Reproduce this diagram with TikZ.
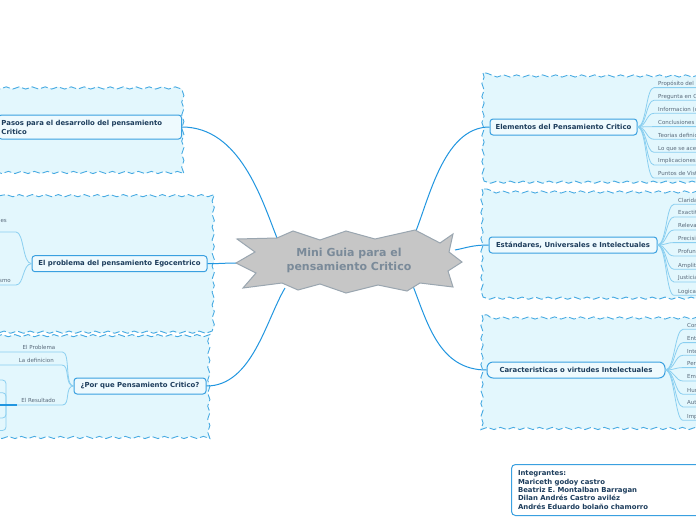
\documentclass[tikz,border=0pt]{standalone}
\usepackage{fontspec}
\setmainfont{DejaVu Sans}
\usetikzlibrary{decorations.pathmorphing}
\definecolor{boxfill}{HTML}{E3F7FD}
\definecolor{boxline}{HTML}{46AAE2}
\definecolor{nodeline}{HTML}{3AA0E0}
\definecolor{nodefill}{HTML}{EEFAFE}
\definecolor{navy}{HTML}{1D3D5C}
\definecolor{subtext}{HTML}{58697A}
\definecolor{subline}{HTML}{8ACFF0}
\definecolor{mainline}{HTML}{2196E0}
\definecolor{starfill}{HTML}{C6C6C6}
\definecolor{starline}{HTML}{9AA6B0}
\definecolor{startext}{HTML}{7A8A99}
\begin{document}
\begin{tikzpicture}[x=1pt,y=-1pt,
  zone/.style={fill=boxfill, draw=boxline, line width=0.9pt, dash pattern=on 7pt off 3pt, decorate, decoration={snake, segment length=13pt, amplitude=1.1pt}},
  topic/.style={draw=nodeline, fill=nodefill, line width=1pt, rounded corners=3pt, font=\fontsize{6.9}{9}\selectfont\bfseries, text=navy, inner sep=0pt, minimum height=16pt},
  sub/.style={font=\fontsize{5.5}{6.5}\selectfont, text=subtext, inner sep=0pt},
  subconn/.style={draw=subline, line width=0.8pt},
  mainconn/.style={draw=mainline, line width=1pt},
]
\clip (0,0) rectangle (696,520);
\fill[white] (0,0) rectangle (696,520);

% zones
\path[zone] (-10,85) rectangle (187,169);
\path[zone] (-10,197) rectangle (212,329);
\path[zone] (-10,337) rectangle (213,436);
\path[zone] (483,73) rectangle (712,181);
\path[zone] (482,189) rectangle (712,297);
\path[zone] (482,315) rectangle (712,425);

% star anchor points
\coordinate (sPasos) at (277,238);
\coordinate (sProb) at (237,263);
\coordinate (sPq) at (285,288);
\coordinate (sEl) at (413,238);
\coordinate (sEst) at (455,250);
\coordinate (sCar) at (413,286);

% main topics
\node[topic, anchor=west, text width=177pt, align=left, inner xsep=3pt, minimum height=24pt] (pasos) at (-2,127) {Pasos para el desarrollo del pensamiento\\Critico};
\node[topic, minimum width=175pt] (prob) at (119.5,263.7) {El problema del pensamiento Egocentrico};
\node[topic, minimum width=132pt] (pq) at (140,386) {¿Por que Pensamiento Critico?};
\node[topic, minimum width=147pt] (el) at (563.5,127) {Elementos del Pensamiento Critico};
\node[topic, minimum width=168pt] (est) at (573,245) {Estándares, Universales e Intelectuales};
\node[topic, minimum width=178pt, rounded corners=6pt] (car) at (576,370) {Caracteristicas o virtudes Intelectuales};

% main connectors
\draw[mainconn] (pasos.east) .. controls (240,127) and (262,200) .. (sPasos);
\draw[mainconn] (prob.east) .. controls (220,263.7) and (225,263) .. (sProb);
\draw[mainconn] (pq.east) .. controls (252,386) and (266,320) .. (sPq);
\draw[mainconn] (el.west) .. controls (442,127) and (428,205) .. (sEl);
\draw[mainconn] (est.west) .. controls (472,245) and (466,248) .. (sEst);
\draw[mainconn] (car.west) .. controls (440,370) and (428,325) .. (sCar);

% star
\path[fill=starfill, draw=starline, line width=1pt, line join=miter]
  (237,239) -- (277,238) -- (293,231) -- (320,240) -- (346,231) -- (375,239) -- (415,230) -- (440,243) -- (453,234) -- (449,252) -- (462,262) -- (448,271) -- (453,287) -- (420,283) -- (407,291) -- (378,285) -- (346,293) -- (320,284) -- (298,290) -- (282,283) -- (243,288) -- (256,273) -- (236,263) -- (255,252) -- cycle;
\node[font=\fontsize{11}{14.4}\selectfont\bfseries, text=startext, align=center, inner sep=0pt] (ctr) at (349,260.5) {Mini Guia para el\\pensamiento Critico};

% Elementos sub items
\foreach \yy/\tt [count=\i] in {83.3/Propósito del Pensamiento, 96/Pregunta en Cuestión, 109/Informacion (datos), 122.3/Conclusiones, 135/Teorias definiciones, 148/Lo que se acepta, 160.7/Implicaciones, 173.7/Puntos de Vista}{
  \node[sub, anchor=base west] (el\i) at (658,\yy+2) {\tt};
  \draw[subconn] (el.east) .. controls +(9,0) and +(-8,0) .. ([xshift=-4pt,yshift=-2.3pt]el\i.base west) -- ++(60,0);
}
% Estandares sub items
\foreach \yy/\tt [count=\i] in {200/Claridad, 212.7/Exactitud, 225.7/Relevancia, 238.3/Precisión, 251.7/Profundidad, 265/Amplitud, 277.7/Justicia, 291/Logica}{
  \node[sub, anchor=base west] (est\i) at (678,\yy+2) {\tt};
  \draw[subconn] (est.east) .. controls +(9,0) and +(-8,0) .. ([xshift=-4pt,yshift=-2.3pt]est\i.base west) -- ++(60,0);
}
% Caracteristicas sub items
\foreach \yy/\tt [count=\i] in {325/Confianza en la razón, 338.3/Entereza intelectual, 351/Integridad intelectual, 363.3/Perseverancia intelectual, 376.7/Empatía intelectual, 390/Humildad intelectual, 402.7/Autonomía intelectual, 416/Imparcialidad}{
  \node[sub, anchor=base west] (car\i) at (687,\yy+2) {\tt};
  \draw[subconn] (car.east) .. controls +(9,0) and +(-8,0) .. ([xshift=-4pt,yshift=-2.3pt]car\i.base west) -- ++(60,0);
}

% El problema sub items (left)
\node[sub, anchor=base east] (prob1) at (7,222) {es};
\node[sub, anchor=base east] (prob2) at (11,282.3) {smo};
\coordinate (prob1u) at (16,232);
\coordinate (prob2u) at (16,285);
\draw[subconn] (prob.west) .. controls +(-9,0) and +(8,0) .. (prob1u) -- ++(-30,0);
\draw[subconn] (prob.west) .. controls +(-9,0) and +(8,0) .. (prob2u) -- ++(-30,0);

% Por que sub items (left)
\node[sub, anchor=base east] (pq1) at (55.5,349.5) {El Problema};
\node[sub, anchor=base east] (pq2) at (54,362.5) {La definicion};
\node[sub, anchor=base east] (pq3) at (55.5,402.5) {El Resultado};
\draw[subconn] (pq.west) .. controls +(-9,0) and +(8,0) .. ([xshift=7pt,yshift=-2.5pt]pq1.base east) -- ++(-70,0);
\draw[subconn] (pq.west) .. controls +(-9,0) and +(8,0) .. ([xshift=8pt,yshift=-2.5pt]pq2.base east) -- ++(-70,0);
\draw[subconn] (pq.west) .. controls +(-9,0) and +(8,0) .. ([xshift=7pt,yshift=-2.5pt]pq3.base east) coordinate (pq3u) -- ++(-70,0);
% El Resultado children (off to the left)
\coordinate (res) at (6,405);
\foreach \yy in {380,392.7,418,430.5}{
  \draw[subconn, rounded corners=3.5pt] (res) -- (6,\yy) -- (-4,\yy);
}
\draw[draw=mainline, line width=1.6pt] (17,405) -- (-2,405);

% team box
\node[draw=nodeline, fill=white, line width=1pt, rounded corners=4pt, anchor=north west, minimum height=51pt, text width=200pt, inner xsep=6.5pt, inner ysep=0pt, align=left, font=\fontsize{6.9}{8.3}\selectfont\bfseries, text=navy] (team) at (511,464) {Integrantes:\\Mariceth godoy castro\\Beatriz E. Montalban Barragan\\Dilan Andrés Castro aviléz\\Andrés Eduardo bolaño chamorro};
\end{tikzpicture}
\end{document}
